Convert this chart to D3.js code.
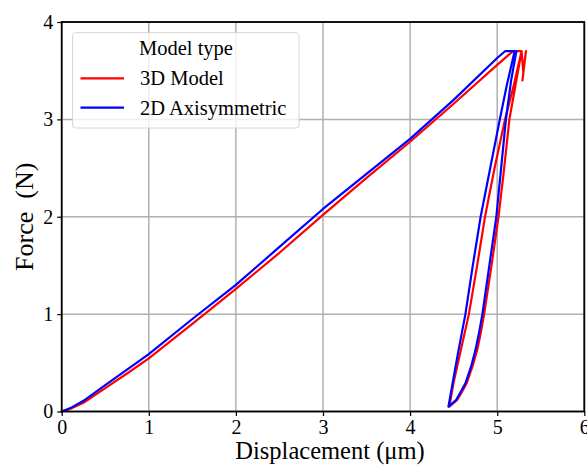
<!DOCTYPE html>
<html>
<head>
<meta charset="utf-8">
<script src="https://cdn.jsdelivr.net/npm/d3@7"></script>
<style>
  html, body { margin: 0; padding: 0; background: #fff; }
  svg { display: block; }
  text { font-family: "Liberation Serif", "Times New Roman", serif; fill: #000; }
</style>
</head>
<body>
<svg id="chart" width="587" height="466"></svg>
<script>
// Load–hold–unload–reload cycle, 3D model
const redDisp  = [0, 0.1, 0.25, 0.5, 0.75, 1, 1.5, 2, 2.5, 3, 3.5, 4, 4.5, 5, 5.18,
                  5.28,
                  5.21, 5.14, 5.08, 5.015, 4.935, 4.85, 4.81, 4.77, 4.715, 4.65, 4.595, 4.54, 4.45,
                  4.50, 4.575, 4.675, 4.77, 4.86, 4.97, 5.09, 5.19, 5.28,
                  5.30, 5.33, 5.29];
const redForce = [0, 0.028, 0.09, 0.24, 0.39, 0.545, 0.90, 1.26, 1.63, 2.02, 2.40, 2.77, 3.16, 3.56, 3.70,
                  3.70,
                  3.35, 3.00, 2.50, 2.00, 1.50, 1.00, 0.80, 0.63, 0.46, 0.29, 0.20, 0.12, 0.05,
                  0.30, 0.60, 1.00, 1.50, 2.00, 2.50, 3.00, 3.35, 3.70,
                  3.48, 3.70, 3.40];

// Same cycle, 2D axisymmetric model
const blueDisp  = [0, 0.1, 0.25, 0.5, 0.75, 1, 1.5, 2, 2.5, 3, 3.5, 4, 4.5, 5, 5.09,
                   5.22,
                   5.16, 5.10, 5.045, 4.99, 4.91, 4.83, 4.79, 4.75, 4.70, 4.635, 4.58, 4.53, 4.44,
                   4.49, 4.55, 4.635, 4.72, 4.81, 4.92, 5.03, 5.11, 5.20];
const blueForce = [0, 0.035, 0.11, 0.27, 0.43, 0.59, 0.95, 1.30, 1.69, 2.08, 2.44, 2.80, 3.20, 3.63, 3.70,
                   3.70,
                   3.40, 3.00, 2.50, 2.00, 1.50, 1.00, 0.80, 0.63, 0.46, 0.29, 0.20, 0.12, 0.05,
                   0.30, 0.60, 1.00, 1.50, 2.00, 2.50, 3.00, 3.35, 3.70];

const xTicks = [0, 1, 2, 3, 4, 5, 6];
const yTicks = [0, 1, 2, 3, 4];
const seriesNames = ["3D Model", "2D Axisymmetric"];
const seriesColors = ["#ff0000", "#0000ff"];
const legendTitle = "Model type";

const svg = d3.select("#chart");
const plotL = 61.7, plotR = 584.3, plotT = 22, plotB = 411.5;

const x = d3.scaleLinear().domain([0, 6]).range([plotL, plotR]);
const y = d3.scaleLinear().domain([0, 4]).range([plotB, plotT]);

// grid
const grid = svg.append("g");
grid.selectAll("line.gx").data(xTicks).join("line")
  .attr("x1", d => x(d)).attr("x2", d => x(d))
  .attr("y1", plotT).attr("y2", plotB)
  .attr("stroke", "#b0b0b0").attr("stroke-width", 1.5);
grid.selectAll("line.gy").data(yTicks).join("line")
  .attr("x1", plotL).attr("x2", plotR)
  .attr("y1", d => y(d)).attr("y2", d => y(d))
  .attr("stroke", "#b0b0b0").attr("stroke-width", 1.5);

// curves
const line = d3.line().x(d => x(d[0])).y(d => y(d[1]));
const series = [
  { pts: d3.zip(redDisp, redForce), color: seriesColors[0] },
  { pts: d3.zip(blueDisp, blueForce), color: seriesColors[1] }
];
svg.append("g").selectAll("path").data(series).join("path")
  .attr("d", d => line(d.pts))
  .attr("fill", "none")
  .attr("stroke", d => d.color)
  .attr("stroke-width", 2.2)
  .attr("stroke-linejoin", "round")
  .attr("stroke-linecap", "round");

// axes
const xAxis = svg.append("g").attr("transform", `translate(0,${plotB})`)
  .call(d3.axisBottom(x).tickValues(xTicks).tickFormat(d3.format("d")).tickSizeOuter(0).tickSize(4.5).tickPadding(4));
const yAxis = svg.append("g").attr("transform", `translate(${plotL},0)`)
  .call(d3.axisLeft(y).tickValues(yTicks).tickFormat(d3.format("d")).tickSizeOuter(0).tickSize(4.5).tickPadding(4));
[xAxis, yAxis].forEach(a => {
  a.select(".domain").remove();
  a.selectAll(".tick line").attr("stroke", "#000").attr("stroke-width", 1.2);
  a.selectAll(".tick text").style("font-family", '"Liberation Serif", serif').style("font-size", "20px").attr("fill", "#000");
});

// frame
svg.append("rect")
  .attr("x", plotL).attr("y", plotT)
  .attr("width", plotR - plotL).attr("height", plotB - plotT)
  .attr("fill", "none").attr("stroke", "#000").attr("stroke-width", 1.8);

// axis titles
svg.append("text")
  .attr("x", 330).attr("y", 459)
  .attr("text-anchor", "middle")
  .style("font-size", "24.5px")
  .text("Displacement (μm)");
svg.append("text")
  .attr("transform", `translate(33,${(plotT + plotB) / 2}) rotate(-90)`)
  .attr("text-anchor", "middle")
  .style("font-size", "26px")
  .style("white-space", "pre")
  .text("Force  (N)");

// legend
const lg = svg.append("g");
lg.append("rect")
  .attr("x", 72.5).attr("y", 32.7).attr("width", 226.5).attr("height", 95.3)
  .attr("rx", 3).attr("fill", "#fff").attr("fill-opacity", 0.8)
  .attr("stroke", "#d6d6d6").attr("stroke-width", 1);
lg.append("text")
  .attr("x", 186).attr("y", 55)
  .attr("text-anchor", "middle")
  .style("font-size", "20.5px")
  .text(legendTitle);
seriesNames.forEach((name, i) => {
  const yy = 78.3 + i * 29.4;
  lg.append("line")
    .attr("x1", 80.5).attr("x2", 124).attr("y1", yy).attr("y2", yy)
    .attr("stroke", seriesColors[i]).attr("stroke-width", 2.2);
  lg.append("text")
    .attr("x", 140).attr("y", yy + 7)
    .style("font-size", "20.5px")
    .text(name);
});
</script>
</body>
</html>
